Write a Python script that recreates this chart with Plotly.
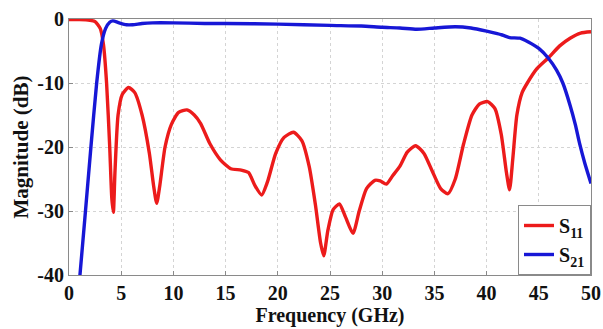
import plotly.graph_objects as go

s11_freq = [0, 1, 2, 2.5, 3.0, 3.3, 3.6, 3.9, 4.1, 4.25, 4.4, 4.7, 5.1, 5.7, 6.3, 7.0, 7.7, 8.1, 8.4, 8.7,
            9.2, 9.8, 10.5, 11.3, 12.0, 12.6, 13.5, 14.5, 15.5, 16.5, 17.2, 17.8, 18.45, 19.0, 19.8,
            20.6, 21.5, 22.3, 23.0, 23.6, 24.1, 24.4, 24.8, 25.3, 25.9, 26.5, 27.2, 27.8, 28.5, 29.3,
            29.8, 30.4, 31.0, 31.7, 32.4, 33.2, 34.0, 34.8, 35.6, 36.3, 37.0, 37.8, 38.6, 39.3, 40.1,
            40.8, 41.4, 41.9, 42.2, 42.5, 42.9, 43.4, 43.9, 44.8, 45.9, 47.0, 48.0, 49.0, 50.0]
s11_db = [-0.1, -0.1, -0.2, -0.4, -1.5, -4, -10, -20, -28, -30.2, -24, -15, -11.8, -10.7, -11.5, -15, -21, -26, -28.8, -26,
          -20, -16.5, -14.6, -14.2, -15, -16.3, -19.5, -22, -23.4, -23.6, -24, -26, -27.5, -25.5, -21,
          -18.5, -17.7, -19, -23, -29, -35, -37, -33, -29.8, -28.9, -31, -33.5, -30, -26.5, -25.2,
          -25.3, -25.8, -24.5, -23, -20.8, -19.8, -21, -23.8, -26.5, -27.3, -25, -19.5, -15, -13.3, -12.9,
          -14, -18, -24, -26.7, -22, -15, -11.5, -10, -7.8, -6.1, -4.2, -3.0, -2.2, -2.0]

s21_freq = [0.9, 1.05, 1.5, 2.1, 2.65, 3.1, 3.5, 3.9, 4.2, 4.8, 5.5, 6.1, 7, 8, 10, 13, 15, 20, 25, 28,
            30, 31.7, 33.3, 35, 37, 38.5, 40, 41.5, 42.2, 43.2, 44, 45, 45.9, 46.7, 47.3, 48.0, 48.5,
            48.9, 49.4, 50]
s21_db = [-42.8, -40, -31.5, -20, -10, -4, -1.5, -0.5, -0.3, -0.6, -0.9, -0.9, -0.7, -0.6, -0.6, -0.7, -0.7, -0.8, -1.0, -1.1,
          -1.3, -1.4, -1.6, -1.4, -1.2, -1.4, -1.9, -2.5, -2.9, -3.0, -3.6, -4.6, -6.1, -8, -10, -13.5, -16.5,
          -19.4, -22.5, -25.7]

x_ticks = [0, 5, 10, 15, 20, 25, 30, 35, 40, 45, 50]
y_ticks = [-40, -30, -20, -10, 0]

FONT = "Liberation Serif"

fig = go.Figure()
fig.add_trace(go.Scatter(x=s11_freq, y=s11_db, mode="lines", name="<b>S<sub>11</sub></b>",
                         line=dict(color="#ec1b1b", width=3.4, shape="spline", smoothing=0.6)))
fig.add_trace(go.Scatter(x=s21_freq, y=s21_db, mode="lines", name="<b>S<sub>21</sub></b>",
                         line=dict(color="#1717d6", width=3.4, shape="spline", smoothing=0.6)))

axis_common = dict(showline=True, linecolor="#8a8a8a", linewidth=1, mirror=True,
                   showgrid=True, gridcolor="#d4d4d4", griddash="dot", gridwidth=1,
                   ticks="inside", ticklen=4, tickcolor="#8a8a8a", zeroline=False,
                   tickfont=dict(family=FONT, size=20, color="#111"))

fig.update_xaxes(range=[0, 50], tickvals=x_ticks, ticktext=[f"<b>{v}</b>" for v in x_ticks],
                 title=dict(text="<b>Frequency (GHz)</b>", font=dict(family=FONT, size=20, color="#111"),
                            standoff=0),
                 automargin=False, **axis_common)
fig.update_yaxes(range=[-40, 0], tickvals=y_ticks, ticktext=[f"<b>{v}</b>" for v in y_ticks],
                 title=dict(text="<b>Magnitude (dB)</b>", font=dict(family=FONT, size=21, color="#111"),
                            standoff=2),
                 automargin=False, **axis_common)

fig.update_layout(
    width=603, height=329,
    margin=dict(l=69, r=12, t=19, b=54),
    paper_bgcolor="white", plot_bgcolor="white",
    showlegend=True,
    legend=dict(x=1, y=0, xanchor="right", yanchor="bottom",
                bordercolor="#8a8a8a", borderwidth=1, bgcolor="white",
                font=dict(family=FONT, size=20, color="#111"),
                itemwidth=30, tracegroupgap=0),
)

fig.write_html("out.html", config={"displayModeBar": False},
               post_script="document.body.style.margin='0';")
